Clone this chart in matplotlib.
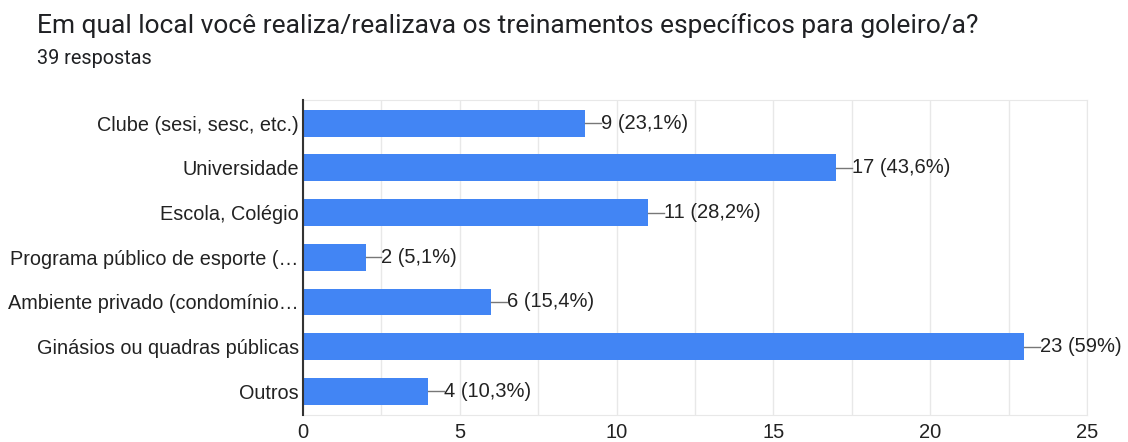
import numpy as np
import matplotlib
matplotlib.use("Agg")
from matplotlib import pyplot as plt

categories = ["Clube (sesi, sesc, etc.)", "Universidade", "Escola, Colégio",
              "Programa público de esporte (…", "Ambiente privado (condomínio…",
              "Ginásios ou quadras públicas", "Outros"]
counts = [9, 17, 11, 2, 6, 23, 4]
percent_labels = ["23,1%", "43,6%", "28,2%", "5,1%", "15,4%", "59%", "10,3%"]

fig = plt.figure(figsize=(11.28, 4.42), dpi=100)
ax = fig.add_axes([0.2686, 0.061, 0.9637 - 0.2686, 0.774 - 0.061])

y = np.arange(len(categories))
ax.barh(y, counts, height=0.6, color="#4285F4", zorder=3)

for yi, c, p in zip(y, counts, percent_labels):
    ax.plot([c, c + 0.5], [yi, yi], color="#777777", lw=1, zorder=3)
    ax.text(c + 0.5, yi, "{} ({})".format(c, p), va="center", ha="left",
            fontsize=14.5, family="Liberation Sans", color="#222222")

ax.set_xlim(0, 25)
ax.set_ylim(6.53, -0.52)
ax.set_yticks(y)
ax.set_yticklabels(categories, fontsize=14.3, family="Liberation Sans", color="#222222")
ax.set_xticks([0, 5, 10, 15, 20, 25])
ax.set_xticklabels(["0", "5", "10", "15", "20", "25"], fontsize=14.5,
                   family="Liberation Sans", color="#222222")
ax.set_xticks(np.arange(0, 25.1, 2.5), minor=True)
ax.grid(axis="x", which="both", color="#e8e8e8", lw=1, zorder=0)
ax.tick_params(axis="both", which="both", length=0)
ax.tick_params(axis="x", pad=6)
ax.tick_params(axis="y", pad=3)
for s in ["top", "right", "bottom"]:
    ax.spines[s].set_color("#e8e8e8")
ax.spines["left"].set_color("#333333")
ax.spines["left"].set_linewidth(1.5)
ax.spines["left"].set_zorder(4)

fig.text(0.033, 0.943, "Em qual local você realiza/realizava os treinamentos específicos para goleiro/a?",
         fontsize=19, family="Roboto", color="#202124", va="center")
fig.text(0.033, 0.868, "39 respostas", fontsize=14.3, family="Roboto",
         color="#202124", va="center")

fig.savefig("out.png", dpi=100)
